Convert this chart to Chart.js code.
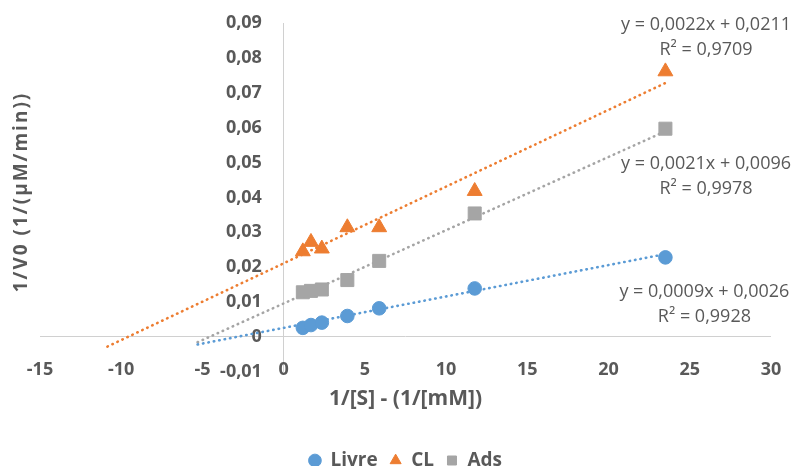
<!DOCTYPE html>
<html>
<head>
<meta charset="utf-8">
<script src="https://cdn.jsdelivr.net/npm/chart.js@4/dist/chart.umd.min.js"></script>
<style>
  html, body { margin: 0; padding: 0; background: #fff; }
  #wrap { width: 803px; height: 466px; }
</style>
</head>
<body>
<div id="wrap"><canvas id="chart" width="803" height="466"></canvas></div>
<script>
// Lineweaver-Burk data: 1/[S] against 1/V0
const invS  = [1.18, 1.68, 2.35, 3.92, 5.88, 11.76, 23.5];
const livre = [0.0026, 0.0034, 0.0041, 0.0060, 0.0082, 0.0139, 0.0228];
const cl    = [0.0245, 0.0272, 0.0253, 0.0314, 0.0314, 0.0418, 0.0761];
const ads   = [0.0128, 0.0132, 0.0136, 0.0163, 0.0218, 0.0354, 0.0597];

const seriesNames = ['Livre', 'CL', 'Ads'];
const seriesData  = [livre, cl, ads];

// linear trendlines as reported (slope, intercept, R²) and their x extents
const slopes     = [0.0009, 0.0022, 0.0021];
const intercepts = [0.0026, 0.0211, 0.0096];
const rSquared   = [0.9928, 0.9709, 0.9978];
const trendFrom  = [-5.3, -10.85, -5.3];
const trendTo    = [23.5, 23.5, 23.5];

const xTicks = { min: -15, max: 30, step: 5 };
const yTicks = { min: -0.01, max: 0.09, step: 0.01 };

const COLORS = ['#5b9bd5', '#ed7d31', '#a5a5a5'];
const STYLES = ['circle', 'triangle', 'rect'];
const RADII  = [6.8, 8.6, 9.2];
const TEXT   = '#595959';
const AXIS   = '#d0d0d0';
const FONT   = '"Open Sans", "Noto Sans", sans-serif';

const fmt = v => {
  const r = Math.round(v * 10000) / 10000;
  return r === 0 ? '0' : String(r).replace('.', ',');
};
const fmt4 = v => v.toFixed(4).replace('.', ',');
const isZero = c => c.tick && Math.abs(c.tick.value) < 1e-9;

const markerSets = seriesData.map((ys, i) => ({
  label: seriesNames[i],
  data: ys.map((y, k) => ({ x: invS[k], y })),
  backgroundColor: COLORS[i],
  borderColor: COLORS[i],
  borderWidth: 1,
  pointStyle: STYLES[i],
  pointRadius: RADII[i],
  pointHoverRadius: RADII[i],
  showLine: false,
  order: 0,
}));

const trendSets = slopes.map((m, i) => ({
  label: seriesNames[i] + ' trend',
  data: [trendFrom[i], trendTo[i]].map(x => ({ x, y: m * x + intercepts[i] })),
  borderColor: COLORS[i],
  borderWidth: 2.6,
  borderDash: [0.5, 5],
  borderCapStyle: 'round',
  pointRadius: 0,
  showLine: true,
  fill: false,
  order: 1,
}));

// equation + R² boxes, anchored in data coordinates
const eqAnchor = [
  { x: 25.9, y: 0.0130 },
  { x: 26.0, y: 0.0894 },
  { x: 26.0, y: 0.0496 },
];

const annotations = {
  id: 'annotations',
  afterDatasetsDraw(chart) {
    const { ctx, scales: { x, y } } = chart;
    ctx.save();
    ctx.fillStyle = TEXT;
    ctx.textAlign = 'center';
    ctx.textBaseline = 'middle';
    ctx.font = '18px ' + FONT;
    eqAnchor.forEach((a, i) => {
      const px = x.getPixelForValue(a.x);
      const py = y.getPixelForValue(a.y);
      ctx.fillText(`y = ${fmt4(slopes[i])}x + ${fmt4(intercepts[i])}`, px, py);
      ctx.fillText(`R² = ${fmt4(rSquared[i])}`, px, py + 25);
    });
    // vertical axis title, kept at the far left
    ctx.translate(22, 192);
    ctx.rotate(-Math.PI / 2);
    ctx.font = 'bold 19px ' + FONT;
    ctx.letterSpacing = '2px';
    ctx.fillText('1/V0 (1/(µM/min))', 0, 0);
    ctx.restore();
  },
};

const boldFont = size => ({ family: FONT, size, weight: 'bold' });

new Chart(document.getElementById('chart'), {
  type: 'scatter',
  data: { datasets: [...markerSets, ...trendSets] },
  options: {
    responsive: false,
    animation: false,
    layout: { padding: { left: 40, right: 32, top: 23, bottom: -14 } },
    plugins: {
      title: {
        display: true,
        position: 'bottom',
        weight: 500,
        text: '1/[S] - (1/[mM])',
        color: TEXT,
        font: boldFont(21),
        padding: { top: 15, bottom: 27 },
      },
      legend: {
        position: 'bottom',
        labels: {
          filter: item => item.datasetIndex < 3,
          usePointStyle: true,
          boxWidth: 12,
          boxHeight: 9,
          padding: 12,
          color: TEXT,
          font: boldFont(19),
        },
      },
      tooltip: { enabled: false },
    },
    scales: {
      x: {
        type: 'linear',
        position: { y: -0.0063 },
        min: xTicks.min,
        max: xTicks.max,
        border: { display: false },
        grid: { drawTicks: false, lineWidth: 1, color: c => (isZero(c) ? AXIS : 'rgba(0,0,0,0)') },
        ticks: { stepSize: xTicks.step, padding: 0, color: TEXT, font: boldFont(18) },
      },
      y: {
        type: 'linear',
        position: { x: -1.34 },
        min: yTicks.min,
        max: yTicks.max,
        border: { display: false },
        grid: { drawTicks: false, lineWidth: 1, color: c => (isZero(c) ? AXIS : 'rgba(0,0,0,0)') },
        ticks: { stepSize: yTicks.step, padding: 0, color: TEXT, font: boldFont(18), callback: v => fmt(v) },
      },
    },
  },
  plugins: [annotations],
});
</script>
</body>
</html>
